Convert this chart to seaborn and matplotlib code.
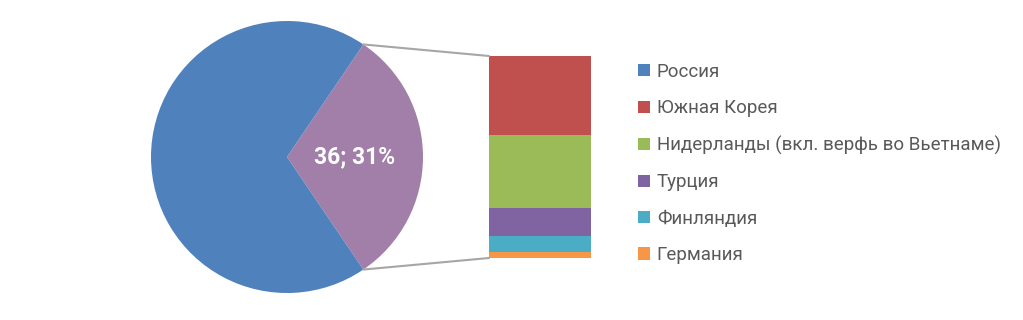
import numpy as np
import matplotlib
matplotlib.use("Agg")
import matplotlib.pyplot as plt
from matplotlib.patches import Patch, ConnectionPatch
import seaborn as sns

# Data
pie_labels = ["Прочие", "Россия"]
pie_values = [36, 80]
bar_labels = ["Южная Корея", "Нидерланды (вкл. верфь во Вьетнаме)", "Турция", "Финляндия", "Германия"]
bar_values = [14, 13, 5, 3, 1]
legend_labels = ["Россия"] + bar_labels

c_russia = "#4F81BD"
c_other = "#A17FA8"
bar_colors = ["#C0504D", "#9BBB59", "#8064A2", "#4BACC6", "#F79646"]

sns.set_theme(style="white")
plt.rcParams["font.family"] = ["Roboto", "DejaVu Sans"]

W, H = 1023, 320
fig = plt.figure(figsize=(W / 100, H / 100), dpi=100)
fig.patch.set_facecolor("white")

# Pie axes
cx, cy, r = 287, 157, 136
ax_pie = fig.add_axes([(cx - r) / W, (H - cy - r) / H, 2 * r / W, 2 * r / H])
total = sum(pie_values)
share = pie_values[0] / total
start = -share * 180

def fmt(p):
    return f"{pie_values[0]}; {p:.0f}%" if p < 50 else ""

wedges, texts, autotexts = ax_pie.pie(
    pie_values, colors=[c_other, c_russia], startangle=start, radius=1,
    autopct=fmt, pctdistance=0.5, counterclock=True,
    wedgeprops=dict(linewidth=0),
    textprops=dict(color="white", fontsize=16.5, fontweight="bold"))
ax_pie.set_xlim(-1, 1)
ax_pie.set_ylim(-1, 1)
ax_pie.set_aspect("equal")
ax_pie.axis("off")

# Bar axes
bx0, bx1, by0, by1 = 489, 591, 56, 258
ax_bar = fig.add_axes([bx0 / W, (H - by1) / H, (bx1 - bx0) / W, (by1 - by0) / H])
bottoms = np.concatenate([[0], np.cumsum(bar_values[::-1])[:-1]])[::-1]
for v, b, c in zip(bar_values, bottoms, bar_colors):
    sns.barplot(x=["x"], y=[v], bottom=b, color=c, width=1, ax=ax_bar,
                linewidth=0, saturation=1)
ax_bar.set_xlim(-0.5, 0.5)
ax_bar.set_ylim(0, sum(bar_values))
ax_bar.axis("off")

# Connector lines
theta = np.deg2rad(share * 180)
for sgn, yb in [(1, 1), (-1, 0)]:
    con = ConnectionPatch(xyA=(np.cos(theta), sgn * np.sin(theta)), coordsA=ax_pie.transData,
                          xyB=(0, yb), coordsB=ax_bar.transAxes,
                          color="#A6A6A6", linewidth=1.5)
    fig.add_artist(con)

# Legend
handles = [Patch(facecolor=c, edgecolor="none") for c in [c_russia] + bar_colors]
fig.legend(handles, legend_labels, loc="upper left",
           bbox_to_anchor=(638 / W, 1 - 63 / H), frameon=False,
           fontsize=13.5, labelcolor="#595959", handlelength=0.62, handleheight=0.62,
           handletextpad=0.38, labelspacing=0.98, borderaxespad=0, borderpad=0)

fig.savefig("out.png", dpi=100, facecolor="white")
